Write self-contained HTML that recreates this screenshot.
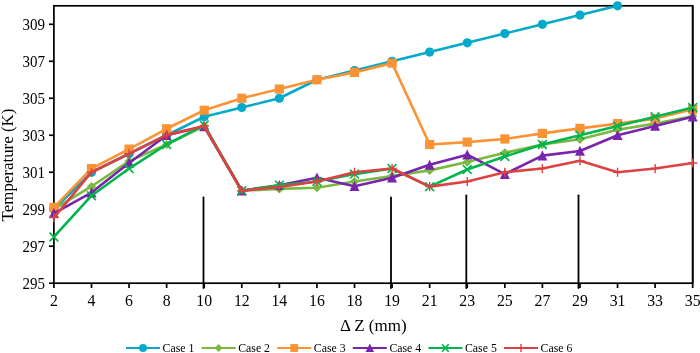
<!DOCTYPE html><html><head><meta charset="utf-8"><style>html,body{margin:0;padding:0;background:#fff;width:700px;height:353px;overflow:hidden}svg{display:block;will-change:transform}</style></head><body>
<svg width="700" height="353" viewBox="0 0 700 353" font-family="Liberation Serif" fill="#000">
<rect x="53.9" y="5.8" width="638.80" height="277.40" fill="none" stroke="#000" stroke-width="1.7"/>
<line x1="49" y1="283.20" x2="53.9" y2="283.20" stroke="#000" stroke-width="1.7"/>
<text transform="translate(45.0,288.50) scale(0.95,1)" font-size="15.8" text-anchor="end">295</text>
<line x1="49" y1="246.21" x2="53.9" y2="246.21" stroke="#000" stroke-width="1.7"/>
<text transform="translate(45.0,251.51) scale(0.95,1)" font-size="15.8" text-anchor="end">297</text>
<line x1="49" y1="209.23" x2="53.9" y2="209.23" stroke="#000" stroke-width="1.7"/>
<text transform="translate(45.0,214.53) scale(0.95,1)" font-size="15.8" text-anchor="end">299</text>
<line x1="49" y1="172.24" x2="53.9" y2="172.24" stroke="#000" stroke-width="1.7"/>
<text transform="translate(45.0,177.54) scale(0.95,1)" font-size="15.8" text-anchor="end">301</text>
<line x1="49" y1="135.25" x2="53.9" y2="135.25" stroke="#000" stroke-width="1.7"/>
<text transform="translate(45.0,140.55) scale(0.95,1)" font-size="15.8" text-anchor="end">303</text>
<line x1="49" y1="98.27" x2="53.9" y2="98.27" stroke="#000" stroke-width="1.7"/>
<text transform="translate(45.0,103.57) scale(0.95,1)" font-size="15.8" text-anchor="end">305</text>
<line x1="49" y1="61.28" x2="53.9" y2="61.28" stroke="#000" stroke-width="1.7"/>
<text transform="translate(45.0,66.58) scale(0.95,1)" font-size="15.8" text-anchor="end">307</text>
<line x1="49" y1="24.29" x2="53.9" y2="24.29" stroke="#000" stroke-width="1.7"/>
<text transform="translate(45.0,29.59) scale(0.95,1)" font-size="15.8" text-anchor="end">309</text>
<line x1="53.90" y1="283.2" x2="53.90" y2="288" stroke="#000" stroke-width="1.7"/>
<text x="53.90" y="305.9" font-size="15.8" text-anchor="middle">2</text>
<line x1="91.48" y1="283.2" x2="91.48" y2="288" stroke="#000" stroke-width="1.7"/>
<text x="91.48" y="305.9" font-size="15.8" text-anchor="middle">4</text>
<line x1="129.05" y1="283.2" x2="129.05" y2="288" stroke="#000" stroke-width="1.7"/>
<text x="129.05" y="305.9" font-size="15.8" text-anchor="middle">6</text>
<line x1="166.63" y1="283.2" x2="166.63" y2="288" stroke="#000" stroke-width="1.7"/>
<text x="166.63" y="305.9" font-size="15.8" text-anchor="middle">8</text>
<line x1="204.21" y1="283.2" x2="204.21" y2="288" stroke="#000" stroke-width="1.7"/>
<text x="204.21" y="305.9" font-size="15.8" text-anchor="middle">10</text>
<line x1="241.78" y1="283.2" x2="241.78" y2="288" stroke="#000" stroke-width="1.7"/>
<text x="241.78" y="305.9" font-size="15.8" text-anchor="middle">12</text>
<line x1="279.36" y1="283.2" x2="279.36" y2="288" stroke="#000" stroke-width="1.7"/>
<text x="279.36" y="305.9" font-size="15.8" text-anchor="middle">14</text>
<line x1="316.94" y1="283.2" x2="316.94" y2="288" stroke="#000" stroke-width="1.7"/>
<text x="316.94" y="305.9" font-size="15.8" text-anchor="middle">16</text>
<line x1="354.51" y1="283.2" x2="354.51" y2="288" stroke="#000" stroke-width="1.7"/>
<text x="354.51" y="305.9" font-size="15.8" text-anchor="middle">18</text>
<line x1="392.09" y1="283.2" x2="392.09" y2="288" stroke="#000" stroke-width="1.7"/>
<text x="392.09" y="305.9" font-size="15.8" text-anchor="middle">19</text>
<line x1="429.66" y1="283.2" x2="429.66" y2="288" stroke="#000" stroke-width="1.7"/>
<text x="429.66" y="305.9" font-size="15.8" text-anchor="middle">21</text>
<line x1="467.24" y1="283.2" x2="467.24" y2="288" stroke="#000" stroke-width="1.7"/>
<text x="467.24" y="305.9" font-size="15.8" text-anchor="middle">23</text>
<line x1="504.82" y1="283.2" x2="504.82" y2="288" stroke="#000" stroke-width="1.7"/>
<text x="504.82" y="305.9" font-size="15.8" text-anchor="middle">25</text>
<line x1="542.39" y1="283.2" x2="542.39" y2="288" stroke="#000" stroke-width="1.7"/>
<text x="542.39" y="305.9" font-size="15.8" text-anchor="middle">27</text>
<line x1="579.97" y1="283.2" x2="579.97" y2="288" stroke="#000" stroke-width="1.7"/>
<text x="579.97" y="305.9" font-size="15.8" text-anchor="middle">29</text>
<line x1="617.55" y1="283.2" x2="617.55" y2="288" stroke="#000" stroke-width="1.7"/>
<text x="617.55" y="305.9" font-size="15.8" text-anchor="middle">31</text>
<line x1="655.12" y1="283.2" x2="655.12" y2="288" stroke="#000" stroke-width="1.7"/>
<text x="655.12" y="305.9" font-size="15.8" text-anchor="middle">33</text>
<line x1="692.70" y1="283.2" x2="692.70" y2="288" stroke="#000" stroke-width="1.7"/>
<text x="692.70" y="305.9" font-size="15.8" text-anchor="middle">35</text>
<line x1="203.5" y1="197.4" x2="203.5" y2="288" stroke="#000" stroke-width="1.8" stroke-linecap="round"/>
<line x1="391.0" y1="197.4" x2="391.0" y2="288" stroke="#000" stroke-width="1.8" stroke-linecap="round"/>
<line x1="466.3" y1="195.3" x2="466.3" y2="288" stroke="#000" stroke-width="1.8" stroke-linecap="round"/>
<line x1="578.5" y1="195.3" x2="578.5" y2="288" stroke="#000" stroke-width="1.8" stroke-linecap="round"/>
<text x="373.3" y="330.7" font-size="17" text-anchor="middle">Δ Z (mm)</text>
<text transform="translate(12.9,165) rotate(-90)" font-size="16.9" text-anchor="middle">Temperature (K)</text>
<polyline points="53.90,209.23 91.48,172.24 129.05,153.75 166.63,135.25 204.21,116.76 241.78,107.51 279.36,98.27 316.94,79.77 354.51,70.53 392.09,61.28 429.66,52.03 467.24,42.79 504.82,33.54 542.39,24.29 579.97,15.05 617.55,5.80" fill="none" stroke="#02A9C8" stroke-width="2.6" stroke-linejoin="round"/><circle cx="53.90" cy="209.23" r="4.60" fill="#02A9C8"/><circle cx="91.48" cy="172.24" r="4.60" fill="#02A9C8"/><circle cx="129.05" cy="153.75" r="4.60" fill="#02A9C8"/><circle cx="166.63" cy="135.25" r="4.60" fill="#02A9C8"/><circle cx="204.21" cy="116.76" r="4.60" fill="#02A9C8"/><circle cx="241.78" cy="107.51" r="4.60" fill="#02A9C8"/><circle cx="279.36" cy="98.27" r="4.60" fill="#02A9C8"/><circle cx="316.94" cy="79.77" r="4.60" fill="#02A9C8"/><circle cx="354.51" cy="70.53" r="4.60" fill="#02A9C8"/><circle cx="392.09" cy="61.28" r="4.60" fill="#02A9C8"/><circle cx="429.66" cy="52.03" r="4.60" fill="#02A9C8"/><circle cx="467.24" cy="42.79" r="4.60" fill="#02A9C8"/><circle cx="504.82" cy="33.54" r="4.60" fill="#02A9C8"/><circle cx="542.39" cy="24.29" r="4.60" fill="#02A9C8"/><circle cx="579.97" cy="15.05" r="4.60" fill="#02A9C8"/><circle cx="617.55" cy="5.80" r="4.60" fill="#02A9C8"/>
<polyline points="53.90,209.23 91.48,186.48 129.05,161.14 166.63,144.50 204.21,126.01 241.78,190.73 279.36,188.88 316.94,187.77 354.51,181.49 392.09,175.94 429.66,170.39 467.24,162.07 504.82,152.82 542.39,144.50 579.97,139.32 617.55,129.71 655.12,123.60 692.70,116.21" fill="none" stroke="#7AB840" stroke-width="2.6" stroke-linejoin="round"/><path d="M53.90 204.63L58.50 209.23L53.90 213.83L49.30 209.23Z" fill="#7AB840"/><path d="M91.48 181.88L96.08 186.48L91.48 191.08L86.88 186.48Z" fill="#7AB840"/><path d="M129.05 156.54L133.65 161.14L129.05 165.74L124.45 161.14Z" fill="#7AB840"/><path d="M166.63 139.90L171.23 144.50L166.63 149.10L162.03 144.50Z" fill="#7AB840"/><path d="M204.21 121.41L208.81 126.01L204.21 130.61L199.61 126.01Z" fill="#7AB840"/><path d="M241.78 186.13L246.38 190.73L241.78 195.33L237.18 190.73Z" fill="#7AB840"/><path d="M279.36 184.28L283.96 188.88L279.36 193.48L274.76 188.88Z" fill="#7AB840"/><path d="M316.94 183.17L321.54 187.77L316.94 192.37L312.34 187.77Z" fill="#7AB840"/><path d="M354.51 176.89L359.11 181.49L354.51 186.09L349.91 181.49Z" fill="#7AB840"/><path d="M392.09 171.34L396.69 175.94L392.09 180.54L387.49 175.94Z" fill="#7AB840"/><path d="M429.66 165.79L434.26 170.39L429.66 174.99L425.06 170.39Z" fill="#7AB840"/><path d="M467.24 157.47L471.84 162.07L467.24 166.67L462.64 162.07Z" fill="#7AB840"/><path d="M504.82 148.22L509.42 152.82L504.82 157.42L500.22 152.82Z" fill="#7AB840"/><path d="M542.39 139.90L546.99 144.50L542.39 149.10L537.79 144.50Z" fill="#7AB840"/><path d="M579.97 134.72L584.57 139.32L579.97 143.92L575.37 139.32Z" fill="#7AB840"/><path d="M617.55 125.11L622.15 129.71L617.55 134.31L612.95 129.71Z" fill="#7AB840"/><path d="M655.12 119.00L659.72 123.60L655.12 128.20L650.52 123.60Z" fill="#7AB840"/><path d="M692.70 111.61L697.30 116.21L692.70 120.81L688.10 116.21Z" fill="#7AB840"/>
<polyline points="53.90,207.38 91.48,168.54 129.05,149.12 166.63,128.78 204.21,110.29 241.78,98.27 279.36,89.02 316.94,79.77 354.51,72.38 392.09,63.13 429.66,144.50 467.24,142.10 504.82,138.95 542.39,133.40 579.97,128.41 617.55,123.60 655.12,118.61 692.70,109.36" fill="none" stroke="#FB9234" stroke-width="2.6" stroke-linejoin="round"/><rect x="49.30" y="202.78" width="9.20" height="9.20" fill="#FB9234"/><rect x="86.88" y="163.94" width="9.20" height="9.20" fill="#FB9234"/><rect x="124.45" y="144.52" width="9.20" height="9.20" fill="#FB9234"/><rect x="162.03" y="124.18" width="9.20" height="9.20" fill="#FB9234"/><rect x="199.61" y="105.69" width="9.20" height="9.20" fill="#FB9234"/><rect x="237.18" y="93.67" width="9.20" height="9.20" fill="#FB9234"/><rect x="274.76" y="84.42" width="9.20" height="9.20" fill="#FB9234"/><rect x="312.34" y="75.17" width="9.20" height="9.20" fill="#FB9234"/><rect x="349.91" y="67.78" width="9.20" height="9.20" fill="#FB9234"/><rect x="387.49" y="58.53" width="9.20" height="9.20" fill="#FB9234"/><rect x="425.06" y="139.90" width="9.20" height="9.20" fill="#FB9234"/><rect x="462.64" y="137.50" width="9.20" height="9.20" fill="#FB9234"/><rect x="500.22" y="134.35" width="9.20" height="9.20" fill="#FB9234"/><rect x="537.79" y="128.80" width="9.20" height="9.20" fill="#FB9234"/><rect x="575.37" y="123.81" width="9.20" height="9.20" fill="#FB9234"/><rect x="612.95" y="119.00" width="9.20" height="9.20" fill="#FB9234"/><rect x="650.52" y="114.01" width="9.20" height="9.20" fill="#FB9234"/><rect x="688.10" y="104.76" width="9.20" height="9.20" fill="#FB9234"/>
<line x1="692.7" y1="5.8" x2="692.7" y2="283.2" stroke="#000" stroke-width="1.7"/>
<polyline points="53.90,213.30 91.48,192.58 129.05,162.99 166.63,135.25 204.21,126.56 241.78,190.73 279.36,185.19 316.94,177.79 354.51,186.29 392.09,177.79 429.66,164.84 467.24,154.67 504.82,174.09 542.39,155.60 579.97,150.97 617.55,135.25 655.12,126.01 692.70,116.76" fill="none" stroke="#7A24AC" stroke-width="2.6" stroke-linejoin="round"/><path d="M53.90 208.10L58.90 218.10L48.90 218.10Z" fill="#7A24AC"/><path d="M91.48 187.38L96.48 197.38L86.48 197.38Z" fill="#7A24AC"/><path d="M129.05 157.79L134.05 167.79L124.05 167.79Z" fill="#7A24AC"/><path d="M166.63 130.05L171.63 140.05L161.63 140.05Z" fill="#7A24AC"/><path d="M204.21 121.36L209.21 131.36L199.21 131.36Z" fill="#7A24AC"/><path d="M241.78 185.53L246.78 195.53L236.78 195.53Z" fill="#7A24AC"/><path d="M279.36 179.99L284.36 189.99L274.36 189.99Z" fill="#7A24AC"/><path d="M316.94 172.59L321.94 182.59L311.94 182.59Z" fill="#7A24AC"/><path d="M354.51 181.09L359.51 191.09L349.51 191.09Z" fill="#7A24AC"/><path d="M392.09 172.59L397.09 182.59L387.09 182.59Z" fill="#7A24AC"/><path d="M429.66 159.64L434.66 169.64L424.66 169.64Z" fill="#7A24AC"/><path d="M467.24 149.47L472.24 159.47L462.24 159.47Z" fill="#7A24AC"/><path d="M504.82 168.89L509.82 178.89L499.82 178.89Z" fill="#7A24AC"/><path d="M542.39 150.40L547.39 160.40L537.39 160.40Z" fill="#7A24AC"/><path d="M579.97 145.77L584.97 155.77L574.97 155.77Z" fill="#7A24AC"/><path d="M617.55 130.05L622.55 140.05L612.55 140.05Z" fill="#7A24AC"/><path d="M655.12 120.81L660.12 130.81L650.12 130.81Z" fill="#7A24AC"/><path d="M692.70 111.56L697.70 121.56L687.70 121.56Z" fill="#7A24AC"/>
<polyline points="53.90,236.97 91.48,195.73 129.05,168.54 166.63,144.50 204.21,125.08 241.78,190.73 279.36,185.19 316.94,181.49 354.51,174.09 392.09,168.54 429.66,186.66 467.24,169.47 504.82,156.52 542.39,144.50 579.97,135.25 617.55,126.01 655.12,116.76 692.70,107.51" fill="none" stroke="#00B54C" stroke-width="2.6" stroke-linejoin="round"/><path d="M49.50 232.57L58.30 241.37M58.30 232.57L49.50 241.37" stroke="#00B54C" stroke-width="1.6" fill="none"/><path d="M87.08 191.33L95.88 200.13M95.88 191.33L87.08 200.13" stroke="#00B54C" stroke-width="1.6" fill="none"/><path d="M124.65 164.14L133.45 172.94M133.45 164.14L124.65 172.94" stroke="#00B54C" stroke-width="1.6" fill="none"/><path d="M162.23 140.10L171.03 148.90M171.03 140.10L162.23 148.90" stroke="#00B54C" stroke-width="1.6" fill="none"/><path d="M199.81 120.68L208.61 129.48M208.61 120.68L199.81 129.48" stroke="#00B54C" stroke-width="1.6" fill="none"/><path d="M237.38 186.33L246.18 195.13M246.18 186.33L237.38 195.13" stroke="#00B54C" stroke-width="1.6" fill="none"/><path d="M274.96 180.79L283.76 189.59M283.76 180.79L274.96 189.59" stroke="#00B54C" stroke-width="1.6" fill="none"/><path d="M312.54 177.09L321.34 185.89M321.34 177.09L312.54 185.89" stroke="#00B54C" stroke-width="1.6" fill="none"/><path d="M350.11 169.69L358.91 178.49M358.91 169.69L350.11 178.49" stroke="#00B54C" stroke-width="1.6" fill="none"/><path d="M387.69 164.14L396.49 172.94M396.49 164.14L387.69 172.94" stroke="#00B54C" stroke-width="1.6" fill="none"/><path d="M425.26 182.26L434.06 191.06M434.06 182.26L425.26 191.06" stroke="#00B54C" stroke-width="1.6" fill="none"/><path d="M462.84 165.07L471.64 173.87M471.64 165.07L462.84 173.87" stroke="#00B54C" stroke-width="1.6" fill="none"/><path d="M500.42 152.12L509.22 160.92M509.22 152.12L500.42 160.92" stroke="#00B54C" stroke-width="1.6" fill="none"/><path d="M537.99 140.10L546.79 148.90M546.79 140.10L537.99 148.90" stroke="#00B54C" stroke-width="1.6" fill="none"/><path d="M575.57 130.85L584.37 139.65M584.37 130.85L575.57 139.65" stroke="#00B54C" stroke-width="1.6" fill="none"/><path d="M613.15 121.61L621.95 130.41M621.95 121.61L613.15 130.41" stroke="#00B54C" stroke-width="1.6" fill="none"/><path d="M650.72 112.36L659.52 121.16M659.52 112.36L650.72 121.16" stroke="#00B54C" stroke-width="1.6" fill="none"/><path d="M688.30 103.11L697.10 111.91M697.10 103.11L688.30 111.91" stroke="#00B54C" stroke-width="1.6" fill="none"/>
<polyline points="53.90,217.55 91.48,172.24 129.05,153.75 166.63,134.88 204.21,126.01 241.78,190.73 279.36,187.03 316.94,181.49 354.51,172.24 392.09,168.54 429.66,186.66 467.24,181.49 504.82,172.24 542.39,168.54 579.97,160.77 617.55,172.24 655.12,168.54 692.70,162.99" fill="none" stroke="#DD4242" stroke-width="2.6" stroke-linejoin="round"/><path d="M49.30 217.55L58.50 217.55M53.90 212.95L53.90 222.15" stroke="#DD4242" stroke-width="1.4" fill="none"/><path d="M86.88 172.24L96.08 172.24M91.48 167.64L91.48 176.84" stroke="#DD4242" stroke-width="1.4" fill="none"/><path d="M124.45 153.75L133.65 153.75M129.05 149.15L129.05 158.35" stroke="#DD4242" stroke-width="1.4" fill="none"/><path d="M162.03 134.88L171.23 134.88M166.63 130.28L166.63 139.48" stroke="#DD4242" stroke-width="1.4" fill="none"/><path d="M199.61 126.01L208.81 126.01M204.21 121.41L204.21 130.61" stroke="#DD4242" stroke-width="1.4" fill="none"/><path d="M237.18 190.73L246.38 190.73M241.78 186.13L241.78 195.33" stroke="#DD4242" stroke-width="1.4" fill="none"/><path d="M274.76 187.03L283.96 187.03M279.36 182.43L279.36 191.63" stroke="#DD4242" stroke-width="1.4" fill="none"/><path d="M312.34 181.49L321.54 181.49M316.94 176.89L316.94 186.09" stroke="#DD4242" stroke-width="1.4" fill="none"/><path d="M349.91 172.24L359.11 172.24M354.51 167.64L354.51 176.84" stroke="#DD4242" stroke-width="1.4" fill="none"/><path d="M387.49 168.54L396.69 168.54M392.09 163.94L392.09 173.14" stroke="#DD4242" stroke-width="1.4" fill="none"/><path d="M425.06 186.66L434.26 186.66M429.66 182.06L429.66 191.26" stroke="#DD4242" stroke-width="1.4" fill="none"/><path d="M462.64 181.49L471.84 181.49M467.24 176.89L467.24 186.09" stroke="#DD4242" stroke-width="1.4" fill="none"/><path d="M500.22 172.24L509.42 172.24M504.82 167.64L504.82 176.84" stroke="#DD4242" stroke-width="1.4" fill="none"/><path d="M537.79 168.54L546.99 168.54M542.39 163.94L542.39 173.14" stroke="#DD4242" stroke-width="1.4" fill="none"/><path d="M575.37 160.77L584.57 160.77M579.97 156.17L579.97 165.37" stroke="#DD4242" stroke-width="1.4" fill="none"/><path d="M612.95 172.24L622.15 172.24M617.55 167.64L617.55 176.84" stroke="#DD4242" stroke-width="1.4" fill="none"/><path d="M650.52 168.54L659.72 168.54M655.12 163.94L655.12 173.14" stroke="#DD4242" stroke-width="1.4" fill="none"/><path d="M688.10 162.99L697.30 162.99M692.70 158.39L692.70 167.59" stroke="#DD4242" stroke-width="1.4" fill="none"/>
<line x1="126.00" y1="348.0" x2="160.00" y2="348.0" stroke="#02A9C8" stroke-width="2.2"/>
<circle cx="143.00" cy="348.00" r="3.91" fill="#02A9C8"/>
<text x="162.60" y="351.6" font-size="11.8">Case 1</text>
<line x1="201.60" y1="348.0" x2="235.60" y2="348.0" stroke="#7AB840" stroke-width="2.2"/>
<path d="M218.60 344.09L222.51 348.00L218.60 351.91L214.69 348.00Z" fill="#7AB840"/>
<text x="238.20" y="351.6" font-size="11.8">Case 2</text>
<line x1="277.20" y1="348.0" x2="311.20" y2="348.0" stroke="#FB9234" stroke-width="2.2"/>
<rect x="290.29" y="344.09" width="7.82" height="7.82" fill="#FB9234"/>
<text x="313.80" y="351.6" font-size="11.8">Case 3</text>
<line x1="352.80" y1="348.0" x2="386.80" y2="348.0" stroke="#7A24AC" stroke-width="2.2"/>
<path d="M369.80 343.58L374.05 352.08L365.55 352.08Z" fill="#7A24AC"/>
<text x="389.40" y="351.6" font-size="11.8">Case 4</text>
<line x1="428.40" y1="348.0" x2="462.40" y2="348.0" stroke="#00B54C" stroke-width="2.2"/>
<path d="M442.11 344.26L448.69 351.74M448.69 344.26L442.11 351.74" stroke="#00B54C" stroke-width="1.6" fill="none"/>
<text x="465.00" y="351.6" font-size="11.8">Case 5</text>
<line x1="504.00" y1="348.0" x2="538.00" y2="348.0" stroke="#DD4242" stroke-width="2.2"/>
<path d="M517.09 348.00L524.91 348.00M521.00 344.09L521.00 351.91" stroke="#DD4242" stroke-width="1.4" fill="none"/>
<text x="540.60" y="351.6" font-size="11.8">Case 6</text>
</svg></body></html>
